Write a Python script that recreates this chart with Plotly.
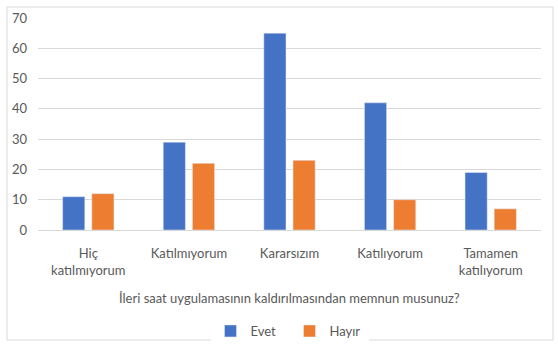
import plotly.graph_objects as go

categories = ["Hiç<br>katılmıyorum", "Katılmıyorum", "Kararsızım", "Katılıyorum", "Tamamen<br>katılıyorum"]
evet = [11, 29, 65, 42, 19]
hayir = [12, 22, 23, 10, 7]
y_ticks = [0, 10, 20, 30, 40, 50, 60, 70]
x_title = "İleri saat uygulamasının kaldırılmasından memnun musunuz?"

font_family = "Lato, 'Open Sans', sans-serif"
text_color = "#595959"

fig = go.Figure()
fig.add_trace(go.Bar(name="Evet", x=categories, y=evet, marker_color="#4472C4"))
fig.add_trace(go.Bar(name="Hayır", x=categories, y=hayir, marker_color="#ED7D31"))

fig.update_layout(
    width=558,
    height=346,
    margin=dict(l=38, r=17, t=18, b=116, autoexpand=False),
    paper_bgcolor="white",
    plot_bgcolor="white",
    barmode="group",
    bargap=0.42,
    bargroupgap=0.24,
    font=dict(family=font_family, size=13, color=text_color),
    showlegend=True,
    legend=dict(
        orientation="h",
        x=0.5,
        xanchor="center",
        y=(230 - 331) / 212,
        yanchor="middle",
        font=dict(size=13, color=text_color),
        itemwidth=30,
        entrywidth=34,
        entrywidthmode="pixels",
        traceorder="normal",
    ),
    xaxis=dict(
        showgrid=False,
        showline=False,
        ticks="",
        automargin=False,
        ticklabelstandoff=14,
        tickfont=dict(size=13, color=text_color),
    ),
    yaxis=dict(
        range=[0, 70],
        tickvals=y_ticks,
        showgrid=True,
        gridcolor="#d9d9d9",
        gridwidth=1,
        zeroline=True,
        zerolinecolor="#d9d9d9",
        zerolinewidth=1,
        showline=False,
        ticks="",
        automargin=False,
        ticklabelstandoff=10,
        tickfont=dict(size=13, color=text_color),
    ),
    annotations=[
        dict(
            text=x_title,
            xref="paper",
            yref="paper",
            x=0.5,
            y=(230 - 298) / 212,
            xanchor="center",
            yanchor="middle",
            showarrow=False,
            font=dict(size=13, color=text_color),
        )
    ],
    shapes=[
        dict(
            type="rect",
            xref="paper",
            yref="paper",
            x0=-0.0616,
            x1=1.0239,
            y0=-0.519,
            y1=1.0519,
            line=dict(color="#d9d9d9", width=1),
            fillcolor="rgba(0,0,0,0)",
            layer="below",
        )
    ],
)

fig.write_html("out.html")
